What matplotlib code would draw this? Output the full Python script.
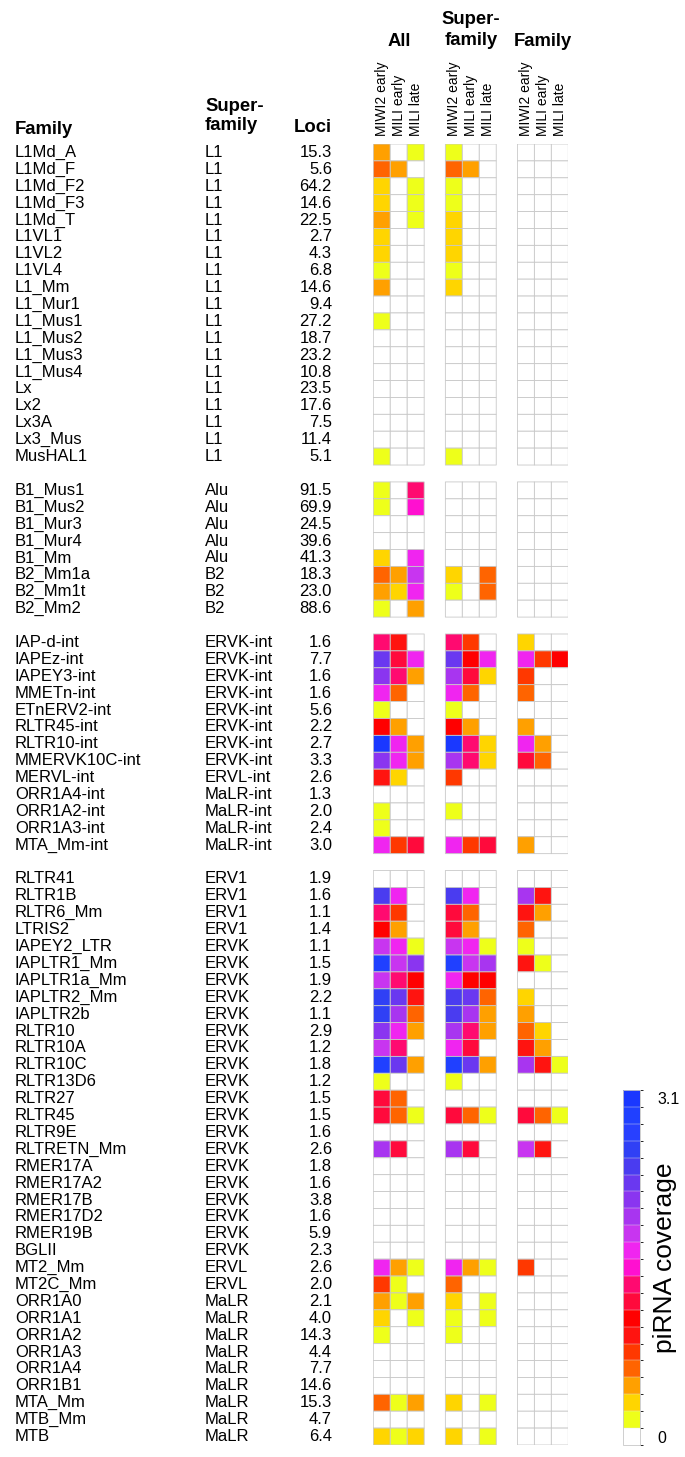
import numpy as np
import matplotlib
matplotlib.use("Agg")
import matplotlib.pyplot as plt
from matplotlib import transforms
from matplotlib.colors import ListedColormap, BoundaryNorm
from matplotlib.cm import ScalarMappable

plt.rcParams["font.family"] = ["Liberation Sans", "DejaVu Sans"]

W, H = 685, 1457

# ---- data ---------------------------------------------------------------
samples = ["MIWI2 early", "MILI early", "MILI late"]
blocks = ["All", "Super-\nfamily", "Family"]

# group 1: LINE
l1_fam = ["L1Md_A", "L1Md_F", "L1Md_F2", "L1Md_F3", "L1Md_T", "L1VL1", "L1VL2",
          "L1VL4", "L1_Mm", "L1_Mur1", "L1_Mus1", "L1_Mus2", "L1_Mus3", "L1_Mus4",
          "Lx", "Lx2", "Lx3A", "Lx3_Mus", "MusHAL1"]
l1_sf = ["L1"] * 19
l1_loci = [15.3, 5.6, 64.2, 14.6, 22.5, 2.7, 4.3, 6.8, 14.6, 9.4, 27.2, 18.7,
           23.2, 10.8, 23.5, 17.6, 7.5, 11.4, 5.1]
# columns: All (3), Super-family (3), Family (3)
l1_cov = [
    [0.5, 0, 0.2, 0.2, 0, 0, 0, 0, 0],
    [0.7, 0.5, 0, 0.7, 0.5, 0, 0, 0, 0],
    [0.4, 0, 0.2, 0.2, 0, 0, 0, 0, 0],
    [0.4, 0, 0.2, 0.2, 0, 0, 0, 0, 0],
    [0.5, 0, 0.2, 0.4, 0, 0, 0, 0, 0],
    [0.4, 0, 0, 0.4, 0, 0, 0, 0, 0],
    [0.4, 0, 0, 0.4, 0, 0, 0, 0, 0],
    [0.2, 0, 0, 0.2, 0, 0, 0, 0, 0],
    [0.5, 0, 0, 0.4, 0, 0, 0, 0, 0],
    [0, 0, 0, 0, 0, 0, 0, 0, 0],
    [0.2, 0, 0, 0, 0, 0, 0, 0, 0],
    [0, 0, 0, 0, 0, 0, 0, 0, 0],
    [0, 0, 0, 0, 0, 0, 0, 0, 0],
    [0, 0, 0, 0, 0, 0, 0, 0, 0],
    [0, 0, 0, 0, 0, 0, 0, 0, 0],
    [0, 0, 0, 0, 0, 0, 0, 0, 0],
    [0, 0, 0, 0, 0, 0, 0, 0, 0],
    [0, 0, 0, 0, 0, 0, 0, 0, 0],
    [0.2, 0, 0, 0.2, 0, 0, 0, 0, 0],
]

# group 2: SINE
sine_fam = ["B1_Mus1", "B1_Mus2", "B1_Mur3", "B1_Mur4", "B1_Mm", "B2_Mm1a",
            "B2_Mm1t", "B2_Mm2"]
sine_sf = ["Alu", "Alu", "Alu", "Alu", "Alu", "B2", "B2", "B2"]
sine_loci = [91.5, 69.9, 24.5, 39.6, 41.3, 18.3, 23.0, 88.6]
sine_cov = [
    [0.2, 0, 1.4, 0, 0, 0, 0, 0, 0],
    [0.2, 0, 1.5, 0, 0, 0, 0, 0, 0],
    [0, 0, 0, 0, 0, 0, 0, 0, 0],
    [0, 0, 0, 0, 0, 0, 0, 0, 0],
    [0.4, 0, 1.7, 0, 0, 0, 0, 0, 0],
    [0.7, 0.5, 1.8, 0.4, 0, 0.7, 0, 0, 0],
    [0.5, 0.4, 1.7, 0.2, 0, 0.7, 0, 0, 0],
    [0.2, 0, 0.5, 0, 0, 0, 0, 0, 0],
]

# group 3: ERV internal
int_fam = ["IAP-d-int", "IAPEz-int", "IAPEY3-int", "MMETn-int", "ETnERV2-int",
           "RLTR45-int", "RLTR10-int", "MMERVK10C-int", "MERVL-int",
           "ORR1A4-int", "ORR1A2-int", "ORR1A3-int", "MTA_Mm-int"]
int_sf = ["ERVK-int", "ERVK-int", "ERVK-int", "ERVK-int", "ERVK-int",
          "ERVK-int", "ERVK-int", "ERVK-int", "ERVL-int", "MaLR-int",
          "MaLR-int", "MaLR-int", "MaLR-int"]
int_loci = [1.6, 7.7, 1.6, 1.6, 5.6, 2.2, 2.7, 3.3, 2.6, 1.3, 2.0, 2.4, 3.0]
int_cov = [
    [1.4, 1.0, 0, 1.4, 0.8, 0, 0.4, 0, 0],
    [2.3, 1.3, 1.7, 2.3, 1.1, 1.7, 1.7, 0.8, 1.1],
    [2.1, 1.4, 0.5, 2.0, 1.3, 0.4, 0.8, 0, 0],
    [1.7, 0.7, 0, 1.7, 0.7, 0, 0.7, 0, 0],
    [0.2, 0, 0, 0.2, 0, 0, 0, 0, 0],
    [1.1, 0.5, 0, 1.1, 0.5, 0, 0.5, 0, 0],
    [3.0, 1.7, 0.5, 3.0, 1.4, 0.4, 1.7, 0.5, 0],
    [2.1, 1.7, 0.5, 2.0, 1.4, 0.4, 1.3, 0.7, 0],
    [1.0, 0.4, 0, 0.8, 0, 0, 0, 0, 0],
    [0, 0, 0, 0, 0, 0, 0, 0, 0],
    [0.2, 0, 0, 0.2, 0, 0, 0, 0, 0],
    [0.2, 0, 0, 0, 0, 0, 0, 0, 0],
    [1.7, 0.8, 1.3, 1.7, 0.8, 1.3, 0.5, 0, 0],
]

# group 4: LTR
ltr_fam = ["RLTR41", "RLTR1B", "RLTR6_Mm", "LTRIS2", "IAPEY2_LTR", "IAPLTR1_Mm",
           "IAPLTR1a_Mm", "IAPLTR2_Mm", "IAPLTR2b", "RLTR10", "RLTR10A",
           "RLTR10C", "RLTR13D6", "RLTR27", "RLTR45", "RLTR9E", "RLTRETN_Mm",
           "RMER17A", "RMER17A2", "RMER17B", "RMER17D2", "RMER19B", "BGLII",
           "MT2_Mm", "MT2C_Mm", "ORR1A0", "ORR1A1", "ORR1A2", "ORR1A3",
           "ORR1A4", "ORR1B1", "MTA_Mm", "MTB_Mm", "MTB"]
ltr_sf = ["ERV1", "ERV1", "ERV1", "ERV1", "ERVK", "ERVK", "ERVK", "ERVK", "ERVK",
          "ERVK", "ERVK", "ERVK", "ERVK", "ERVK", "ERVK", "ERVK", "ERVK", "ERVK",
          "ERVK", "ERVK", "ERVK", "ERVK", "ERVK", "ERVL", "ERVL", "MaLR", "MaLR",
          "MaLR", "MaLR", "MaLR", "MaLR", "MaLR", "MaLR", "MaLR"]
ltr_loci = [1.9, 1.6, 1.1, 1.4, 1.1, 1.5, 1.9, 2.2, 1.1, 2.9, 1.2, 1.8, 1.2, 1.5,
            1.5, 1.6, 2.6, 1.8, 1.6, 3.8, 1.6, 5.9, 2.3, 2.6, 2.0, 2.1, 4.0,
            14.3, 4.4, 7.7, 14.6, 15.3, 4.7, 6.4]
ltr_cov = [
    [0, 0, 0, 0, 0, 0, 0, 0, 0],
    [2.4, 1.7, 0, 2.4, 1.7, 0, 2.0, 1.0, 0],
    [1.4, 0.8, 0, 1.3, 0.7, 0, 1.0, 0.5, 0],
    [1.1, 0.5, 0, 1.3, 0.5, 0, 0.7, 0, 0],
    [1.8, 1.7, 0.2, 1.8, 1.7, 0.2, 0.2, 0, 0],
    [2.9, 1.8, 2.1, 2.9, 1.8, 2.0, 1.0, 0.2, 0],
    [1.8, 1.4, 1.1, 1.7, 1.1, 1.1, 0, 0, 0],
    [2.6, 2.3, 1.0, 2.4, 2.3, 0.7, 0.4, 0, 0],
    [2.6, 2.0, 0.7, 2.4, 2.0, 0.5, 0.5, 0, 0],
    [2.1, 1.7, 0.5, 2.0, 1.4, 0.5, 0.7, 0.4, 0],
    [1.8, 1.4, 0, 1.7, 1.3, 0, 1.0, 0.5, 0],
    [2.9, 2.3, 0.5, 2.9, 2.3, 0.5, 2.0, 1.0, 0.2],
    [0.2, 0, 0, 0.2, 0, 0, 0, 0, 0],
    [1.3, 0.7, 0, 0, 0, 0, 0, 0, 0],
    [1.3, 0.7, 0.2, 1.3, 0.7, 0.2, 1.3, 0.7, 0.2],
    [0, 0, 0, 0, 0, 0, 0, 0, 0],
    [2.0, 1.3, 0, 2.0, 1.3, 0, 1.8, 1.0, 0],
    [0, 0, 0, 0, 0, 0, 0, 0, 0],
    [0, 0, 0, 0, 0, 0, 0, 0, 0],
    [0, 0, 0, 0, 0, 0, 0, 0, 0],
    [0, 0, 0, 0, 0, 0, 0, 0, 0],
    [0, 0, 0, 0, 0, 0, 0, 0, 0],
    [0, 0, 0, 0, 0, 0, 0, 0, 0],
    [1.7, 0.5, 0.2, 1.7, 0.5, 0.2, 0.8, 0, 0],
    [0.8, 0.2, 0, 0.7, 0, 0, 0, 0, 0],
    [0.5, 0.2, 0.5, 0.4, 0, 0.2, 0, 0, 0],
    [0.4, 0, 0.2, 0.2, 0, 0.2, 0, 0, 0],
    [0.2, 0, 0, 0.2, 0, 0, 0, 0, 0],
    [0, 0, 0, 0, 0, 0, 0, 0, 0],
    [0, 0, 0, 0, 0, 0, 0, 0, 0],
    [0, 0, 0, 0, 0, 0, 0, 0, 0],
    [0.7, 0.2, 0.5, 0.4, 0, 0.2, 0, 0, 0],
    [0, 0, 0, 0, 0, 0, 0, 0, 0],
    [0.4, 0.2, 0.4, 0.4, 0, 0.2, 0, 0, 0],
]

groups = [(l1_fam, l1_sf, l1_loci, l1_cov),
          (sine_fam, sine_sf, sine_loci, sine_cov),
          (int_fam, int_sf, int_loci, int_cov),
          (ltr_fam, ltr_sf, ltr_loci, ltr_cov)]

vmax = 3.1
colors = ["#ffffff", "#eeff1a", "#ffd500", "#ffa000", "#ff6400", "#ff3800",
          "#ff1410", "#ff0000", "#ff0a3c", "#ff0a70", "#ff10d0", "#f025f0",
          "#c835f0", "#a835f0", "#8a35f0", "#6a38f0", "#4a3cf0", "#3040f5",
          "#2840ff", "#2040ff", "#1a38ff"]
cmap = ListedColormap(colors)
bounds = np.linspace(0, vmax, len(colors) + 1)
norm = BoundaryNorm(bounds, cmap.N)

# ---- assemble matrix (gap row between groups, gap column between blocks) --
rows, labels = [], []
for gi, (fam, sf, loci, cov) in enumerate(groups):
    if gi > 0:
        rows.append([np.nan] * 9)
        labels.append(None)
    for f, s, l, c in zip(fam, sf, loci, cov):
        rows.append(c)
        labels.append((f, s, l))
M = np.array(rows, dtype=float)
gap = np.full((M.shape[0], 1), np.nan)
M = np.hstack([M[:, 0:3], gap, M[:, 3:6], gap, M[:, 6:9]])
M = np.ma.masked_invalid(M)

xedges = np.array([0, 1, 2, 3, 4.25, 5.25, 6.25, 7.25, 8.5, 9.5, 10.5, 11.5])
yedges = np.arange(M.shape[0] + 1)
col_x = [0.5, 1.5, 2.5, 4.75, 5.75, 6.75, 9.0, 10.0, 11.0]
block_x = [1.5, 5.75, 10.0]

fig = plt.figure(figsize=(W / 100, H / 100), dpi=100)
ax = fig.add_axes([373.3 / W, 12 / H, 195 / W, 1301 / H])
ax.pcolor(xedges, yedges, M, cmap=cmap, norm=norm,
          edgecolors="#c8c8c8", linewidth=0.6)
ax.set_xlim(0, xedges[-1]); ax.set_ylim(M.shape[0], 0)
ax.axis("off")

# row labels
tr = transforms.blended_transform_factory(fig.transFigure, ax.transData)
for i, lab in enumerate(labels):
    if lab is None:
        continue
    f, s, l = lab
    ax.text(15 / W, i + 0.5, f, transform=tr, ha="left", va="center", fontsize=12)
    ax.text(205 / W, i + 0.5, s, transform=tr, ha="left", va="center", fontsize=12)
    ax.text(332 / W, i + 0.5, f"{l:.1f}", transform=tr, ha="right", va="center",
            fontsize=12)

# headers
hd = dict(fontsize=13.3, fontweight="bold")
fig.text(15 / W, 1 - 129 / H, "Family", ha="left", va="center", **hd)
fig.text(205 / W, 1 - 116 / H, "Super-\nfamily", ha="left", va="center",
         linespacing=1.2, **hd)
fig.text(332 / W, 1 - 127 / H, "Loci", ha="right", va="center", **hd)

tc = transforms.blended_transform_factory(ax.transData, fig.transFigure)
for bx, name in zip(block_x, blocks):
    yc = 1 - (30 if "\n" in name else 42) / H
    ax.text(bx, yc, name, transform=tc, ha="center", va="center",
            linespacing=1.25, **hd)
for k, cx in enumerate(col_x):
    ax.text(cx, 1 - 136 / H, samples[k % 3], transform=tc, rotation=90,
            ha="center", va="bottom", fontsize=10)

# colour bar
cax = fig.add_axes([623.3 / W, 12 / H, 17 / W, 355 / H])
cb = fig.colorbar(ScalarMappable(norm=norm, cmap=cmap), cax=cax,
                  drawedges=True)
cb.outline.set_edgecolor("#c8c8c8"); cb.outline.set_linewidth(0.6)
cb.dividers.set_color("#e4e4e4"); cb.dividers.set_linewidth(0.3)
half = (bounds[1] - bounds[0]) / 2
cb.set_ticks([half, vmax - half])
cb.set_ticklabels(["0", "3.1"])
cax.tick_params(length=0, pad=12, labelsize=11.5)
cax.text(2.45, 0.527, "piRNA coverage", transform=cax.transAxes, rotation=90,
         ha="center", va="center", fontsize=19)

fig.savefig("out.png", dpi=100)
